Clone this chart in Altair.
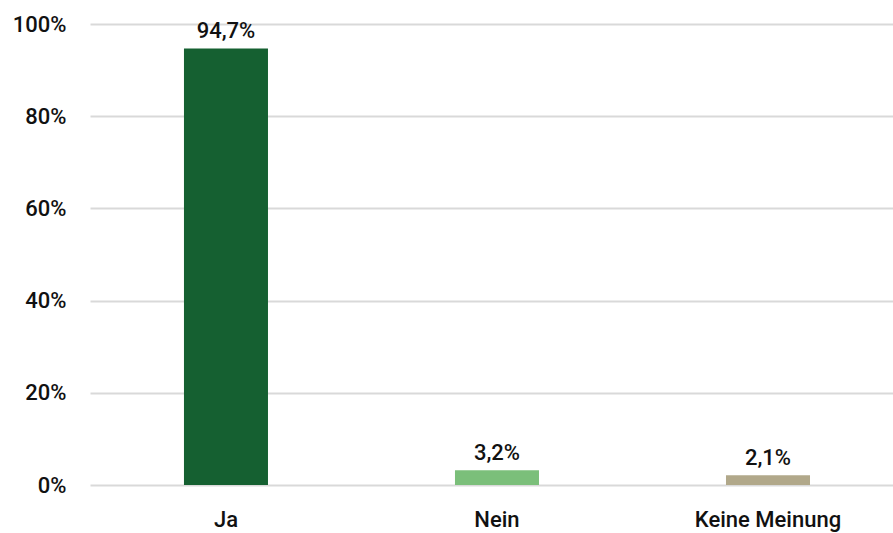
import altair as alt
import pandas as pd

categories = ["Ja", "Nein", "Keine Meinung"]
values = [94.7, 3.2, 2.1]
colors = ["#156031", "#7bbf7a", "#b1a88a"]
y_ticks = [0, 20, 40, 60, 80, 100]

df = pd.DataFrame({
    "cat": categories,
    "val": values,
    "label": [f"{v:.1f}%".replace(".", ",") for v in values],
})

FONT = "Roboto"
FS = 22

x = alt.X("cat:N", sort=categories, title=None,
          scale=alt.Scale(paddingInner=0.69, paddingOuter=0.3265, align=0.531),
          axis=alt.Axis(labelAngle=0, ticks=False, domain=False, labelFont=FONT,
                        labelFontSize=FS, labelFontWeight=500, labelColor="#111111",
                        labelPadding=24))
y = alt.Y("val:Q", title=None,
          scale=alt.Scale(domain=[0, 100], nice=False),
          axis=alt.Axis(values=y_ticks, labelExpr="datum.value + '%'", ticks=False,
                        domain=False, labelFont=FONT, labelFontSize=FS,
                        labelFontWeight=500, labelColor="#111111", labelPadding=24,
                        gridColor="#d9d9d9", gridWidth=2))

bars = alt.Chart(df).mark_bar().encode(
    x=x, y=y,
    color=alt.Color("cat:N", scale=alt.Scale(domain=categories, range=colors), legend=None),
)

text = alt.Chart(df).mark_text(baseline="bottom", dy=-5, font=FONT, fontSize=FS,
                               fontWeight=500, color="#111111").encode(
    x=alt.X("cat:N", sort=categories),
    y="val:Q",
    text="label:N",
)

chart = (bars + text).properties(
    width=803, height=461,
    autosize=alt.AutoSizeParams(type="none"),
    padding={"left": 90, "top": 24, "right": 0, "bottom": 48},
).configure_view(stroke=None)

chart.save("out.html", embed_options={"renderer": "svg", "actions": False})
